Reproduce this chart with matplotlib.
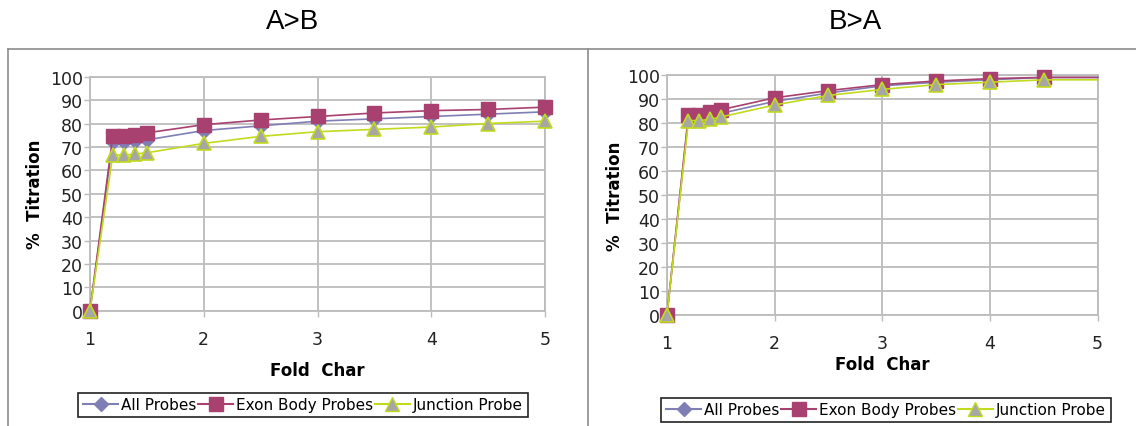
import matplotlib.pyplot as plt
from matplotlib.lines import Line2D

fold = [1, 1.2, 1.3, 1.4, 1.5, 2, 2.5, 3, 3.5, 4, 4.5, 5]

# A>B
ab_all = [0, 72, 72, 72.5, 73, 77, 79, 81, 82, 83, 84, 85]
ab_exon = [0, 74.5, 74.5, 75, 76, 79.5, 81.5, 83, 84.5, 85.5, 86, 87]
ab_junction = [0, 66.5, 66.5, 67, 67.5, 71.5, 74.5, 76.5, 77.5, 78.5, 80, 81]

# B>A
ba_all = [0, 82.5, 82.5, 83, 84, 89, 92.5, 95.5, 97, 98, 99, 99]
ba_exon = [0, 83.5, 83.5, 84.5, 85.5, 90.5, 93.5, 96, 97.5, 98.5, 99, 99]
ba_junction = [0, 81, 81, 81.5, 82.5, 87.5, 91.5, 94, 96, 97, 98, 98]

series_names = ['All Probes', 'Exon Body Probes', 'Junction Probe']

c_all = '#7f7fb5'
c_exon = '#a8416f'
c_junc = '#c2da1e'
grid_c = '#bcbcbc'

fig = plt.figure(figsize=(11.36, 4.27), dpi=100)

ax1 = fig.add_axes([0.0792, 0.270, 0.4006, 0.548])
ax2 = fig.add_axes([0.5871, 0.260, 0.3791, 0.562])


def draw(ax, all_v, exon_v, junc_v, marks):
    ax.plot(fold, all_v, color=c_all, lw=1.2, marker='D', ms=7,
            mfc=c_all, mec=c_all, markevery=marks, clip_on=False, zorder=3)
    ax.plot(fold, exon_v, color=c_exon, lw=1.2, marker='s', ms=9.5,
            mfc=c_exon, mec=c_exon, markevery=marks, clip_on=False, zorder=4)
    ax.plot(fold, junc_v, color=c_junc, lw=1.2, marker='^', ms=10,
            mfc='#a6a6a6', mec=c_junc, mew=1.2, markevery=marks,
            clip_on=False, zorder=5)
    ax.set_xlim(1, 5)
    ax.set_ylim(0, 100)
    ax.set_xticks([1, 2, 3, 4, 5])
    ax.set_yticks(range(0, 101, 10))
    ax.grid(True, color=grid_c, lw=1.3)
    ax.set_axisbelow(True)
    for s in ax.spines.values():
        s.set_color(grid_c)
        s.set_linewidth(1.3)
    ax.tick_params(labelsize=12.5, colors='#222222', length=4, width=1,
                   pad=1)
    ax.tick_params(axis='x', pad=10)
    ax.tick_params(color=grid_c)


draw(ax1, ab_all, ab_exon, ab_junction, list(range(12)))
draw(ax2, ba_all, ba_exon, ba_junction, list(range(11)))

ax1.set_xlabel('Fold  Char', fontsize=12, fontweight='bold', labelpad=9)
ax1.set_ylabel('%  Titration', fontsize=12, fontweight='bold', labelpad=4)
ax2.set_xlabel('Fold  Char', fontsize=12, fontweight='bold', labelpad=2)
ax2.set_ylabel('%  Titration', fontsize=12, fontweight='bold', labelpad=2)

fig.text(293 / 1136, 1 - 22 / 427, 'A>B', fontsize=20, ha='center', va='center',
         family='Liberation Sans')
fig.text(855 / 1136, 1 - 22 / 427, 'B>A', fontsize=20, ha='center', va='center',
         family='Liberation Sans')

# panel frames
fig.add_artist(Line2D([8 / 1136, 1], [1 - 50 / 427] * 2, color='#8c8c8c', lw=1.2))
fig.add_artist(Line2D([8 / 1136] * 2, [0, 1 - 50 / 427], color='#8c8c8c', lw=1.2))
fig.add_artist(Line2D([588 / 1136] * 2, [0, 1 - 50 / 427], color='#8c8c8c', lw=1.2))

handles = [
    Line2D([], [], color=c_all, marker='D', ms=7, mfc=c_all, mec=c_all),
    Line2D([], [], color=c_exon, marker='s', ms=9.5, mfc=c_exon, mec=c_exon),
    Line2D([], [], color=c_junc, marker='^', ms=10, mfc='#a6a6a6', mec=c_junc),
]

for cx, cy in [(303 / 1136, 1 - 406 / 427), (886 / 1136, 1 - 411 / 427)]:
    leg = fig.legend(handles, series_names, loc='center', bbox_to_anchor=(cx, cy),
                     ncol=3, fontsize=11, frameon=True, fancybox=False,
                     edgecolor='#222222', framealpha=1, handlelength=2.3,
                     handletextpad=0.2, columnspacing=0.1, borderpad=0.3,
                     borderaxespad=0)
    leg.get_frame().set_linewidth(1.2)

fig.savefig('out.png', dpi=100)
